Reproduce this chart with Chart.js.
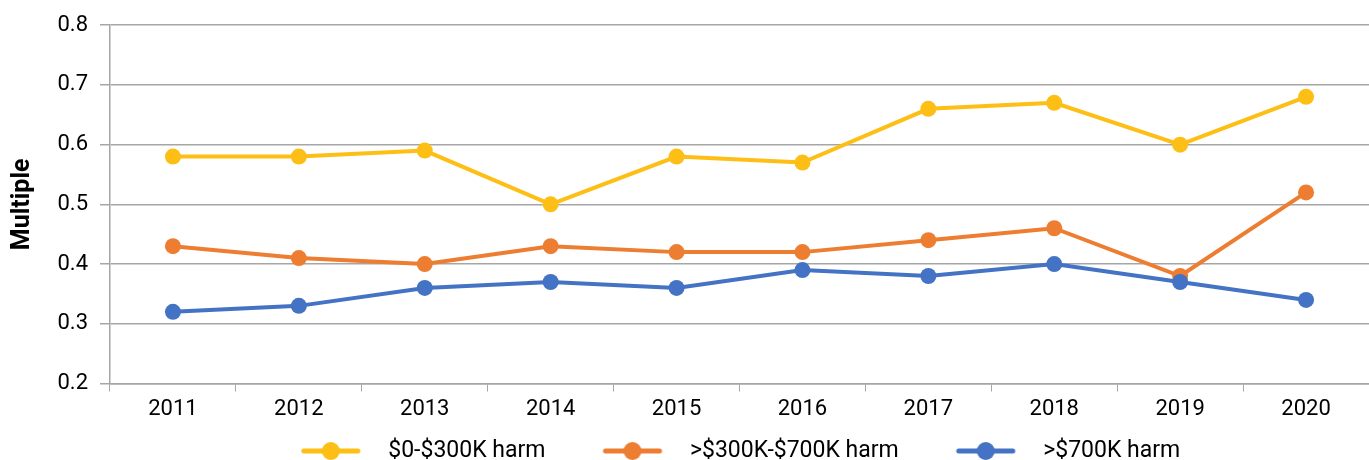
<!DOCTYPE html>
<html lang="en">
<head>
    <meta charset="UTF-8">
    <title>Multiple by harm band</title>
    <script src="https://cdn.jsdelivr.net/npm/chart.js"></script>
    <style>
        html, body {
            margin: 0;
            padding: 0;
            background: #fff;
            overflow: hidden;
        }
    </style>
</head>
<body>
    <canvas id="myChart" width="1377" height="460"></canvas>

    <script>
        const years = ['2011', '2012', '2013', '2014', '2015', '2016', '2017', '2018', '2019', '2020'];
        const lowHarm = [0.58, 0.58, 0.59, 0.50, 0.58, 0.57, 0.66, 0.67, 0.60, 0.68];
        const midHarm = [0.43, 0.41, 0.40, 0.43, 0.42, 0.42, 0.44, 0.46, 0.38, 0.52];
        const highHarm = [0.32, 0.33, 0.36, 0.37, 0.36, 0.39, 0.38, 0.40, 0.37, 0.34];
        const seriesNames = ['$0-$300K harm', '>$300K-$700K harm', '>$700K harm'];
        const colors = ['#FDBE16', '#ED7D31', '#4472C4'];

        const gridColor = '#A6A6A6';
        const font = 'Roboto';
        const legendSize = 23;

        // legend marker: blank lead-in, the line with a dot, then a little gap
        const lead = 56;
        const markW = lead + 58 + 17;
        function legendMarker(color) {
            const c = document.createElement('canvas');
            c.width = markW;
            c.height = 20;
            const g = c.getContext('2d');
            g.strokeStyle = color;
            g.lineWidth = 5;
            g.lineCap = 'round';
            g.beginPath();
            g.moveTo(lead + 2, 10);
            g.lineTo(lead + 56, 10);
            g.stroke();
            g.fillStyle = color;
            g.beginPath();
            g.arc(lead + 29, 10, 9, 0, Math.PI * 2);
            g.fill();
            return c;
        }
        const markers = colors.map(legendMarker);

        // nudge the legend row to the right a bit
        const legendShift = {
            id: 'legendShift',
            afterLayout(chart) {
                if (chart.legend) {
                    chart.legend.left += 25;
                    chart.legend.right += 25;
                }
            }
        };

        function makeSet(i, data, order) {
            return {
                label: seriesNames[i],
                data: data,
                borderColor: colors[i],
                backgroundColor: colors[i],
                borderWidth: 4,
                pointRadius: 8,
                pointHoverRadius: 8,
                pointBorderWidth: 0,
                tension: 0,
                order: order
            };
        }

        const ctx = document.getElementById('myChart').getContext('2d');

        new Chart(ctx, {
            type: 'line',
            data: {
                labels: years,
                datasets: [
                    makeSet(0, lowHarm, 2),
                    makeSet(1, midHarm, 1),
                    makeSet(2, highHarm, 0)
                ]
            },
            plugins: [legendShift],
            options: {
                responsive: false,
                animation: false,
                layout: { padding: { top: 21, right: 1, left: 0, bottom: -12.5 } },
                scales: {
                    x: {
                        offset: true,
                        afterFit: (scale) => { scale.height = 54; },
                        grid: {
                            offset: true,
                            drawOnChartArea: false,
                            color: gridColor,
                            tickLength: 8
                        },
                        border: { color: gridColor, width: 1.5 },
                        ticks: { color: '#000', font: { family: font, size: 22 }, padding: 5 }
                    },
                    y: {
                        min: 0.2,
                        max: 0.8,
                        afterFit: (scale) => { scale.width = 110; },
                        grid: { color: gridColor, lineWidth: 1.5, tickLength: 10 },
                        border: { color: gridColor, width: 1.5 },
                        ticks: {
                            stepSize: 0.1,
                            color: '#000',
                            padding: 12,
                            font: { family: font, size: 22 },
                            callback: (v) => v.toFixed(1)
                        },
                        title: {
                            display: true,
                            text: 'Multiple',
                            color: '#000',
                            font: { family: font, size: 25, weight: 'bold' },
                            padding: { top: 8, bottom: 0 }
                        }
                    }
                },
                plugins: {
                    tooltip: { enabled: false },
                    legend: {
                        display: true,
                        position: 'bottom',
                        labels: {
                            usePointStyle: true,
                            pointStyleWidth: markW,
                            color: '#000',
                            padding: 2,
                            font: { family: font, size: legendSize },
                            generateLabels: (chart) => chart.data.datasets.map((ds, i) => ({
                                text: ds.label,
                                pointStyle: markers[i],
                                fillStyle: colors[i],
                                strokeStyle: colors[i],
                                lineWidth: 0,
                                hidden: false,
                                datasetIndex: i,
                                fontColor: '#000'
                            }))
                        }
                    }
                }
            }
        });
    </script>
</body>
</html>
